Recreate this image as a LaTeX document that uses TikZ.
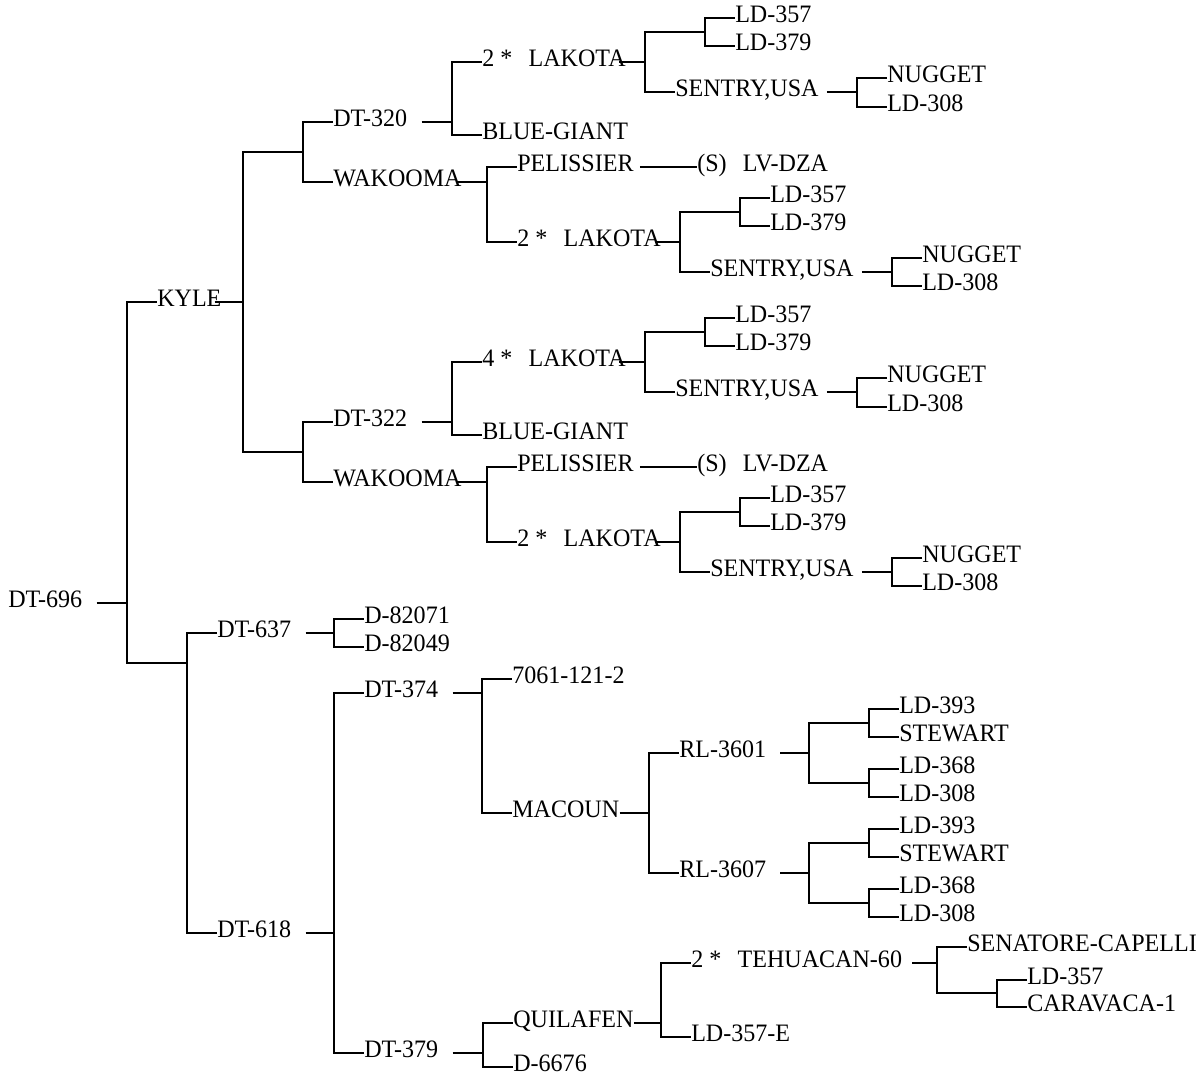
\documentclass[tikz,border=0pt]{standalone}
\usepackage{fontspec}
\setmainfont[FakeStretch=0.96]{Liberation Serif}

\begin{document}
\begin{tikzpicture}[
    x=0.75pt, y=-0.75pt,
    font=\fontsize{18.8}{21}\selectfont,
    lbl/.style={anchor=west, inner sep=0pt, text height=0.66em, text depth=0pt},
    br/.style={draw=black, line width=1.6pt},
]
    \useasboundingbox (0,0) rectangle (1202,1080);

    % root
    \node[lbl] (dt696) at (8,603) {DT-696};
    \coordinate (j696) at (127,603);

    % KYLE side
    \node[lbl] (kyle) at (157,302) {KYLE};
    \coordinate (jkyle) at (243,302);

    % first cross
    \coordinate (u1) at (303,152);
    \node[lbl] (dt320) at (333,122) {DT-320};
    \coordinate (j320) at (452,122);
    \node[lbl] (lak1) at (482,62) {2 *\hspace{.65em}LAKOTA};
    \coordinate (jlak1) at (645,62);
    \coordinate (u2) at (705,32);
    \node[lbl] (ld357a) at (735,18) {LD-357};
    \node[lbl] (ld379a) at (735,46) {LD-379};
    \node[lbl] (sen1) at (675,92) {SENTRY,USA};
    \coordinate (jsen1) at (857,92);
    \node[lbl] (nug1) at (887,78) {NUGGET};
    \node[lbl] (ld308a) at (887,107) {LD-308};
    \node[lbl] (blue1) at (482,135) {BLUE-GIANT};
    \node[lbl] (wak1) at (333,182) {WAKOOMA};
    \coordinate (jwak1) at (487,182);
    \node[lbl] (pel1) at (517,167) {PELISSIER};
    \coordinate (jpel1) at (667,167);
    \node[lbl] (lv1) at (697,167) {(S)\hspace{.65em}LV-DZA};
    \node[lbl] (lak2) at (517,242) {2 *\hspace{.65em}LAKOTA};
    \coordinate (jlak2) at (680,242);
    \coordinate (u3) at (740,212);
    \node[lbl] (ld357b) at (770,198) {LD-357};
    \node[lbl] (ld379b) at (770,226) {LD-379};
    \node[lbl] (sen2) at (710,272) {SENTRY,USA};
    \coordinate (jsen2) at (892,272);
    \node[lbl] (nug2) at (922,258) {NUGGET};
    \node[lbl] (ld308b) at (922,286) {LD-308};

    % second cross
    \coordinate (u4) at (303,452);
    \node[lbl] (dt322) at (333,422) {DT-322};
    \coordinate (j322) at (452,422);
    \node[lbl] (lak3) at (482,362) {4 *\hspace{.65em}LAKOTA};
    \coordinate (jlak3) at (645,362);
    \coordinate (u5) at (705,332);
    \node[lbl] (ld357c) at (735,318) {LD-357};
    \node[lbl] (ld379c) at (735,346) {LD-379};
    \node[lbl] (sen3) at (675,392) {SENTRY,USA};
    \coordinate (jsen3) at (857,392);
    \node[lbl] (nug3) at (887,378) {NUGGET};
    \node[lbl] (ld308c) at (887,407) {LD-308};
    \node[lbl] (blue2) at (482,435) {BLUE-GIANT};
    \node[lbl] (wak2) at (333,482) {WAKOOMA};
    \coordinate (jwak2) at (487,482);
    \node[lbl] (pel2) at (517,467) {PELISSIER};
    \coordinate (jpel2) at (667,467);
    \node[lbl] (lv2) at (697,467) {(S)\hspace{.65em}LV-DZA};
    \node[lbl] (lak4) at (517,542) {2 *\hspace{.65em}LAKOTA};
    \coordinate (jlak4) at (680,542);
    \coordinate (u6) at (740,512);
    \node[lbl] (ld357d) at (770,498) {LD-357};
    \node[lbl] (ld379d) at (770,526) {LD-379};
    \node[lbl] (sen4) at (710,572) {SENTRY,USA};
    \coordinate (jsen4) at (892,572);
    \node[lbl] (nug4) at (922,558) {NUGGET};
    \node[lbl] (ld308d) at (922,586) {LD-308};

    % lower side
    \coordinate (u7) at (187,663);
    \node[lbl] (dt637) at (217,633) {DT-637};
    \coordinate (j637) at (334,633);
    \node[lbl] (d82071) at (364,619) {D-82071};
    \node[lbl] (d82049) at (364,647) {D-82049};
    \node[lbl] (dt618) at (217,933) {DT-618};
    \coordinate (j618) at (334,933);
    \node[lbl] (dt374) at (364,693) {DT-374};
    \coordinate (j374) at (482,693);
    \node[lbl] (n7061) at (512,679) {7061-121-2};
    \node[lbl] (mac) at (512,813) {MACOUN};
    \coordinate (jmac) at (649,813);
    \node[lbl] (rl3601) at (679,753) {RL-3601};
    \coordinate (j3601) at (809,753);
    \coordinate (u8) at (869,723);
    \node[lbl] (ld393a) at (899,709) {LD-393};
    \node[lbl] (stew1) at (899,737) {STEWART};
    \coordinate (u9) at (869,783);
    \node[lbl] (ld368a) at (899,769) {LD-368};
    \node[lbl] (ld308e) at (899,797) {LD-308};
    \node[lbl] (rl3607) at (679,873) {RL-3607};
    \coordinate (j3607) at (809,873);
    \coordinate (u10) at (869,843);
    \node[lbl] (ld393b) at (899,829) {LD-393};
    \node[lbl] (stew2) at (899,857) {STEWART};
    \coordinate (u11) at (869,903);
    \node[lbl] (ld368b) at (899,889) {LD-368};
    \node[lbl] (ld308f) at (899,917) {LD-308};
    \node[lbl] (dt379) at (364,1053) {DT-379};
    \coordinate (j379) at (483,1053);
    \node[lbl] (quil) at (513,1023) {QUILAFEN};
    \coordinate (jquil) at (661,1023);
    \node[lbl] (d6676) at (513,1067) {D-6676};
    \node[lbl] (teh) at (691,963) {2 *\hspace{.65em}TEHUACAN-60};
    \coordinate (jteh) at (937,963);
    \node[lbl] (sena) at (967,947) {SENATORE-CAPELLI};
    \coordinate (u12) at (997,993);
    \node[lbl] (ld357e) at (1027,980) {LD-357};
    \node[lbl] (cara) at (1027,1007) {CARAVACA-1};
    \node[lbl] (ld357x) at (691,1037) {LD-357-E};

    % stubs from a label to its bar
    \foreach \n/\g/\j in {dt696/14/j696, kyle/-7/jkyle,
        dt320/14/j320, lak1/-7/jlak1, sen1/8/jsen1, wak1/-6/jwak1,
        pel1/6/jpel1, lak2/-6/jlak2, sen2/8/jsen2,
        dt322/14/j322, lak3/-7/jlak3, sen3/8/jsen3, wak2/-6/jwak2,
        pel2/6/jpel2, lak4/-6/jlak4, sen4/8/jsen4,
        dt637/14/j637, dt618/14/j618, dt374/14/j374, mac/0/jmac,
        rl3601/14/j3601, rl3607/14/j3607, dt379/14/j379,
        quil/0/jquil, teh/10/jteh}
        \draw[br] (\n.east) ++(\g,0) -- (\j);

    % bars to unnamed crosses
    \foreach \j/\c in {jkyle/u1, jkyle/u4, jlak1/u2, jlak2/u3,
        jlak3/u5, jlak4/u6, j696/u7, j3601/u8, j3601/u9,
        j3607/u10, j3607/u11, jteh/u12}
        \draw[br] (\j) |- (\c);

    % bars to labels
    \foreach \j/\c in {j696/kyle, u1/dt320, u1/wak1,
        j320/lak1, j320/blue1, jlak1/sen1, u2/ld357a, u2/ld379a,
        jsen1/nug1, jsen1/ld308a, jwak1/pel1, jwak1/lak2, jpel1/lv1,
        jlak2/sen2, u3/ld357b, u3/ld379b, jsen2/nug2, jsen2/ld308b,
        u4/dt322, u4/wak2,
        j322/lak3, j322/blue2, jlak3/sen3, u5/ld357c, u5/ld379c,
        jsen3/nug3, jsen3/ld308c, jwak2/pel2, jwak2/lak4, jpel2/lv2,
        jlak4/sen4, u6/ld357d, u6/ld379d, jsen4/nug4, jsen4/ld308d,
        u7/dt637, u7/dt618, j637/d82071, j637/d82049,
        j618/dt374, j618/dt379, j374/n7061, j374/mac,
        jmac/rl3601, jmac/rl3607,
        u8/ld393a, u8/stew1, u9/ld368a, u9/ld308e,
        u10/ld393b, u10/stew2, u11/ld368b, u11/ld308f,
        j379/quil, j379/d6676, jquil/teh, jquil/ld357x,
        jteh/sena, u12/ld357e, u12/cara}
        \draw[br] (\j) |- (\c.west);
\end{tikzpicture}
\end{document}
